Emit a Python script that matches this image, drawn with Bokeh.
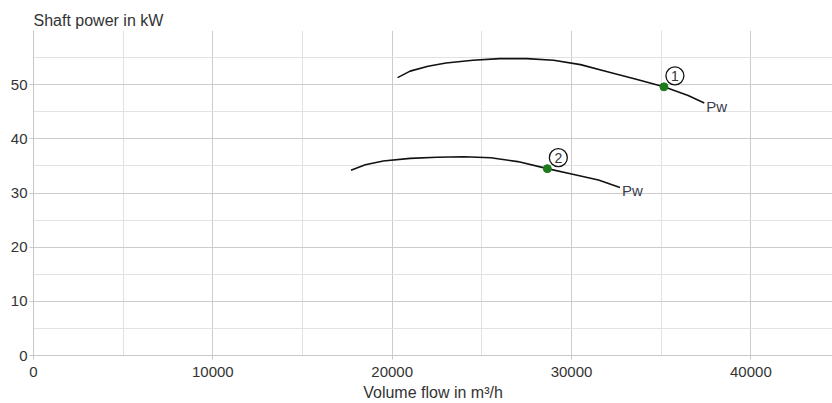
from bokeh.plotting import figure
from bokeh.models import Range1d, FixedTicker
from bokeh.core.properties import value
from bokeh.embed import file_html
from bokeh.resources import INLINE

# Curve 1 (shaft power Pw)
flow1 = [20300, 21000, 22000, 23000, 24500, 26000, 27500, 29000, 30500, 32000, 33500, 35150, 36500, 37400]
power1 = [51.3, 52.5, 53.4, 54.0, 54.5, 54.8, 54.8, 54.5, 53.7, 52.4, 51.1, 49.6, 48.0, 46.6]
# Curve 2 (shaft power Pw)
flow2 = [17700, 18500, 19500, 21000, 22500, 24000, 25500, 27000, 28650, 30000, 31500, 32700]
power2 = [34.2, 35.2, 35.9, 36.4, 36.6, 36.7, 36.5, 35.8, 34.5, 33.5, 32.4, 31.0]

# Operating points
op_flow = [35150, 28650]
op_power = [49.6, 34.5]
op_labels = ["1", "2"]

curve_label = "Pw"
x_ticks = [0, 10000, 20000, 30000, 40000]
x_minor = [5000, 15000, 25000, 35000]
y_ticks = [0, 10, 20, 30, 40, 50]
y_minor = [5, 15, 25, 35, 45, 55]
y_grid = [0, 10, 20, 30, 40, 50, 60]

FONT = "Liberation Sans"
X_END = 44550
Y_END = 60

p = figure(width=832, height=403, output_backend="svg", toolbar_location=None,
           x_range=Range1d(0, X_END), y_range=Range1d(0, Y_END),
           min_border_left=33, min_border_right=0, min_border_top=30, min_border_bottom=48,
           title="Shaft power in kW")
p.outline_line_color = None
p.background_fill_color = "white"
p.border_fill_color = "white"

p.title.text_font = FONT
p.title.text_font_size = "16px"
p.title.text_font_style = "normal"
p.title.text_color = "#333333"
p.title.align = "left"
p.title.standoff = 4

for ax in (p.xaxis[0], p.yaxis[0]):
    ax.axis_line_color = "#c8c8c8"
    ax.major_tick_line_color = "#c8c8c8"
    ax.major_tick_out = 4
    ax.major_tick_in = 0
    ax.minor_tick_out = 0
    ax.minor_tick_in = 0
    ax.major_label_text_font = FONT
    ax.major_label_text_font_size = "15px"
    ax.major_label_text_color = "#333333"
p.xaxis.major_label_standoff = 7
p.yaxis.major_label_standoff = 2

p.xaxis.ticker = FixedTicker(ticks=x_ticks, minor_ticks=x_minor)
p.yaxis.ticker = FixedTicker(ticks=y_ticks, minor_ticks=y_minor)
p.xaxis.axis_label = "Volume flow in m³/h"
p.xaxis.axis_label_text_font = FONT
p.xaxis.axis_label_text_font_size = "16px"
p.xaxis.axis_label_text_font_style = "normal"
p.xaxis.axis_label_text_color = "#333333"
p.xaxis.axis_label_standoff = 4

p.xgrid.ticker = FixedTicker(ticks=x_ticks, minor_ticks=x_minor)
p.ygrid.ticker = FixedTicker(ticks=y_grid, minor_ticks=y_minor)
for g in (p.xgrid[0], p.ygrid[0]):
    g.grid_line_color = "#cccccc"
    g.grid_line_width = 1
    g.minor_grid_line_color = "#e2e2e2"
    g.minor_grid_line_width = 1

p.line(flow1, power1, line_color="#111111", line_width=1.6)
p.line(flow2, power2, line_color="#111111", line_width=1.6)

# Curve end labels
p.text(x=[flow1[-1], flow2[-1]], y=[power1[-1], power2[-1]], text=[curve_label, curve_label],
       x_offset=2, y_offset=3, text_font=value(FONT), text_font_size="15px",
       text_color="#3c3c4c", text_align="left", text_baseline="middle")

# Operating point markers
p.scatter(op_flow, op_power, size=8, fill_color="#1d7a1d", line_color="#1d7a1d")

# Numbered circles offset from operating points (pixel offsets converted to data units)
px_per_x = 799 / X_END
px_per_y = 325 / Y_END
dx_px, dy_px = 11, 11
lab_x = [f + dx_px / px_per_x for f in op_flow]
lab_y = [v + dy_px / px_per_y for v in op_power]
p.scatter(lab_x, lab_y, size=18, fill_color="white", line_color="#111111", line_width=1.3)
p.text(x=lab_x, y=lab_y, text=op_labels, text_font=value(FONT), text_font_size="14px",
       text_color="#333333", text_align="center", text_baseline="middle")

open("out.html", "w").write(file_html(p, INLINE))
